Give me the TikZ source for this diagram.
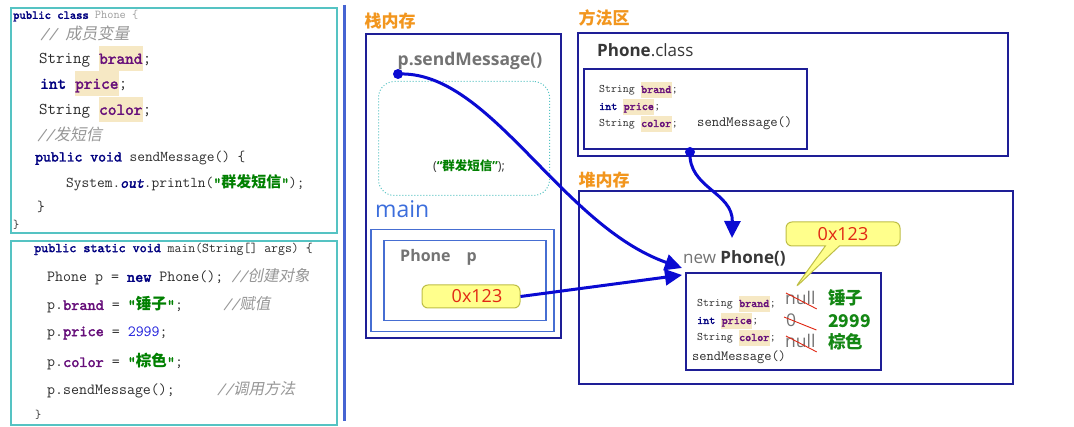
\documentclass[tikz,border=0pt]{standalone}
\usepackage{fontspec}
\setmainfont{Open Sans}
\newfontfamily\cjk{Noto Sans CJK SC}
\newfontfamily\cjki{Noto Sans CJK SC}[FakeSlant=0.2]
\newfontfamily\ttb{lmmono10-regular.otf}[FakeBold=2.2]
\newfontfamily\ttbi{lmmono10-regular.otf}[FakeBold=2.2,FakeSlant=0.2]
\usetikzlibrary{arrows.meta,shapes.callouts,calc}
\definecolor{tealc}{RGB}{85,195,195}
\definecolor{kwc}{RGB}{0,0,128}
\definecolor{fldc}{RGB}{102,14,122}
\definecolor{hlc}{RGB}{246,232,196}
\definecolor{cmtc}{RGB}{150,150,150}
\definecolor{strc}{RGB}{0,128,0}
\definecolor{numc}{RGB}{30,30,220}
\definecolor{orangec}{RGB}{242,150,30}
\definecolor{navyc}{RGB}{30,30,150}
\definecolor{mainc}{RGB}{70,110,210}
\definecolor{mainlblc}{RGB}{60,110,220}
\definecolor{arrowc}{RGB}{10,10,210}
\definecolor{grayt}{RGB}{115,115,115}
\definecolor{darkt}{RGB}{55,55,55}
\definecolor{yelf}{RGB}{255,255,140}
\definecolor{yeld}{RGB}{190,190,70}
\definecolor{redt}{RGB}{225,40,20}
\definecolor{valc}{RGB}{20,135,20}
\definecolor{divc}{RGB}{70,100,210}
\definecolor{lgray}{RGB}{160,160,160}
\definecolor{codec}{RGB}{45,45,45}
\newcommand\jkw[1]{{\color{kwc}\ttb #1}}
\newcommand\jfld[1]{{\setlength\fboxsep{0.5pt}\colorbox{hlc}{\color{fldc}\ttb\strut #1}}}
\newcommand\jcmt[2]{{\color{cmtc}\itshape #1\cjki #2}}
\newcommand\jstr[1]{{\color{strc}\ttb ”{\cjk\bfseries #1}”}}
\newcommand\jnum[1]{{\color{numc}#1}}
\tikzset{
  codebox/.style={draw=tealc, line width=1.8pt, anchor=north west, inner sep=0pt},
  navybox/.style={draw=navyc, line width=1.6pt, anchor=north west, inner sep=0pt},
  mainbox/.style={draw=mainc, line width=1.5pt, anchor=north west, inner sep=0pt},
  code/.style={anchor=west, inner sep=0pt, text=codec},
  lbl/.style={inner sep=0pt, text=orangec, font=\fontsize{17}{20}\cjk\bfseries},
  gtxt/.style={inner sep=0pt, text=grayt, font=\fontsize{16}{19}\selectfont\bfseries},
  refbox/.style={draw=yeld, fill=yelf, line width=1pt, rounded corners=6pt, text=redt,
    font=\fontsize{18}{21}\selectfont, inner sep=0pt},
  nullt/.style={anchor=west, inner sep=0pt, text=grayt, font=\fontsize{17.5}{20}\selectfont},
  valt/.style={anchor=west, inner sep=0pt, text=valc, font=\fontsize{17.5}{20}\cjk\bfseries},
  strike/.style={draw=redt, line width=0.9pt},
  arr/.style={draw=arrowc, line width=3pt, -{Triangle[length=17pt,width=16pt]}},
}
\begin{document}
\begin{tikzpicture}[x=1pt,y=-1pt]
\useasboundingbox (0,0) rectangle (1074,427);
\fill[white] (0,0) rectangle (1074,427);

% ---------- source code ----------
\node[codebox, minimum width=326pt, minimum height=225pt] (cls) at (10,7) {};
\node[codebox, minimum width=326pt, minimum height=184pt] (mainsrc) at (10,240) {};

\node[code, font=\fontsize{12}{14}\ttfamily] (c0) at (13,16) {\jkw{public class} {\color{lgray}Phone \{}};
\node[code, font=\fontsize{16}{24}\ttfamily] (c1) at (40,33) {\jcmt{//\ }{成员变量}};
\node[code, font=\fontsize{16.5}{24}\ttfamily] (c2) at (39,59) {String \jfld{brand};};
\node[code, font=\fontsize{16.5}{24}\ttfamily] (c3) at (40,84) {\jkw{int} \jfld{price};};
\node[code, font=\fontsize{16.5}{24}\ttfamily] (c4) at (39,110) {String \jfld{color};};
\node[code, font=\fontsize{16}{24}\ttfamily] (c5) at (37,134) {\jcmt{//}{发短信}};
\node[code, font=\fontsize{15}{22}\ttfamily] (c6) at (35,158) {\jkw{public void} sendMessage() \{};
\node[code, font=\fontsize{15}{22}\ttfamily] (c7) at (66,183) {System.{\color{kwc}\ttbi out}.println(\jstr{群发短信});};
\node[code, font=\fontsize{15}{22}\ttfamily] (c8) at (37,207) {\}};
\node[code, font=\fontsize{12}{14}\ttfamily] (c9) at (13,225) {\}};

\node[code, font=\fontsize{13.4}{16}\ttfamily] (m0) at (34,249) {\jkw{public static void} main(String[] args) \{};
\node[code, font=\fontsize{15.5}{24}\ttfamily] (m1) at (47,277) {Phone p = \jkw{new} Phone(); \jcmt{//}{创建对象}};
\node[code, font=\fontsize{15.5}{24}\ttfamily] (m2) at (47,305) {p.{\color{fldc}\ttb brand} = \jstr{锤子};\hspace{40pt}\jcmt{//}{赋值}};
\node[code, font=\fontsize{15.5}{24}\ttfamily] (m3) at (47,333) {p.{\color{fldc}\ttb price} = \jnum{2999};};
\node[code, font=\fontsize{15.5}{24}\ttfamily] (m4) at (47,362) {p.{\color{fldc}\ttb color} = \jstr{棕色};};
\node[code, font=\fontsize{15.5}{24}\ttfamily] (m5) at (47,390) {p.sendMessage();\hspace{42pt}\jcmt{//}{调用方法}};
\node[code, font=\fontsize{12}{14}\ttfamily] (m6) at (35,415) {\}};

% ---------- divider ----------
\coordinate (dtop) at (344,5);
\coordinate (dbot) at (344,421);
\draw[draw=divc, line width=3pt] (dtop) -- (dbot);

% ---------- stack ----------
\node[lbl] (stacklbl) at (390,21) {栈内存};
\node[navybox, minimum width=195pt, minimum height=304pt] (stack) at (365,33) {};
\node[gtxt, font=\fontsize{17.5}{20}\selectfont\bfseries] (psm) at (470,61) {p.sendMessage()};
\node[draw=tealc, dotted, line width=1pt, rounded corners=16pt, anchor=north west,
      minimum width=171pt, minimum height=114pt, inner sep=0pt] (frame) at (378,81) {};
\node[inner sep=0pt, font=\fontsize{12.5}{14}\selectfont, text=darkt] (qmsg) at (469,166)
  {(\textcolor{strc}{\bfseries“{\cjk\bfseries 群发短信}”});};
\node[anchor=west, inner sep=0pt, text=mainlblc, font=\fontsize{23}{26}\selectfont] (mainlbl) at (375,209) {main};
\node[mainbox, minimum width=183pt, minimum height=102pt] (mainfr) at (370,229) {};
\node[mainbox, minimum width=162pt, minimum height=80pt] (pvar) at (383,240) {};
\node[gtxt, anchor=west] (ptxt) at (400,257) {Phone\hspace{16pt}p};
\node[refbox, minimum width=98pt, minimum height=23pt] (ref) at (471,296.5) {\hspace{12pt}0x123};

% ---------- method area ----------
\node[lbl] (methlbl) at (604,18) {方法区};
\node[navybox, minimum width=430pt, minimum height=123pt] (marea) at (577,32) {};
\node[anchor=west, inner sep=0pt, text=darkt, font=\fontsize{17}{20}\selectfont] (pclass) at (597,50) {\textbf{Phone}.class};
\node[navybox, minimum width=223pt, minimum height=80pt] (mclass) at (583,68) {};
\node[code, font=\fontsize{11.5}{15}\ttfamily] (f1) at (599,90) {String \jfld{brand};};
\node[code, font=\fontsize{11.5}{15}\ttfamily] (f2) at (599,107) {\jkw{int} \jfld{price};};
\node[code, font=\fontsize{11.5}{15}\ttfamily] (f3) at (599,124) {String \jfld{color};};
\node[code, font=\fontsize{14.2}{17}\ttfamily] (msend) at (697,123) {sendMessage()};

% ---------- heap ----------
\node[lbl] (heaplbl) at (604,180) {堆内存};
\node[navybox, minimum width=434pt, minimum height=193pt] (heap) at (578,190) {};
\node[anchor=west, inner sep=0pt, text=darkt, font=\fontsize{17}{20}\selectfont] (newph) at (683,258) {{\color{grayt}new} \textbf{Phone()}};
\node[navybox, minimum width=195pt, minimum height=97pt] (obj) at (685,272) {};
\node[code, font=\fontsize{11.5}{15}\ttfamily] (h1) at (697,304) {String \jfld{brand};};
\node[code, font=\fontsize{11.5}{15}\ttfamily] (h2) at (697,321) {\jkw{int} \jfld{price};};
\node[code, font=\fontsize{11.5}{15}\ttfamily] (h3) at (697,338) {String \jfld{color};};
\node[code, font=\fontsize{14}{17}\ttfamily] (hsend) at (692,357) {sendMessage()};
\node[nullt] (n1) at (785,298) {null};
\node[nullt] (n2) at (786,320) {0};
\node[nullt] (n3) at (785,341) {null};
\draw[strike] ([shift={(1,-5)}]n1.west) -- ([shift={(1,4)}]n1.south east);
\draw[strike] ([shift={(-2,-3)}]n2.west) -- ([shift={(20,10)}]n2.east);
\draw[strike] ([shift={(1,-5)}]n3.west) -- ([shift={(1,4)}]n3.south east);
\node[valt] (v1) at (828,298) {锤子};
\node[valt] (v2) at (828,321) {2999};
\node[valt] (v3) at (828,342) {棕色};
\node[rectangle callout, draw=yeld, fill=yelf, line width=1pt, rounded corners=6pt,
      text=redt, font=\fontsize{18}{21}\selectfont, inner sep=0pt,
      minimum width=114pt, minimum height=24pt, callout pointer width=14pt,
      callout absolute pointer={(795,288)}] (href) at (843,234) {0x123};

% ---------- arrows ----------
\coordinate (sdot) at (398,74);
\coordinate (mdot) at (690,152);
\coordinate (objtop) at (732,238);
\draw[arr] (sdot) .. controls (490,70) and (560,225) .. ([shift={(-3,-4)}]obj.north west);
\draw[arr] (ref.east) -- ([shift={(-3,3)}]obj.north west);
\draw[arr] (mdot) .. controls (688,188) and (733,192) .. (objtop);
\fill[arrowc] (sdot) circle[radius=5pt];
\fill[arrowc] (mdot) circle[radius=5pt];
\end{tikzpicture}
\end{document}
